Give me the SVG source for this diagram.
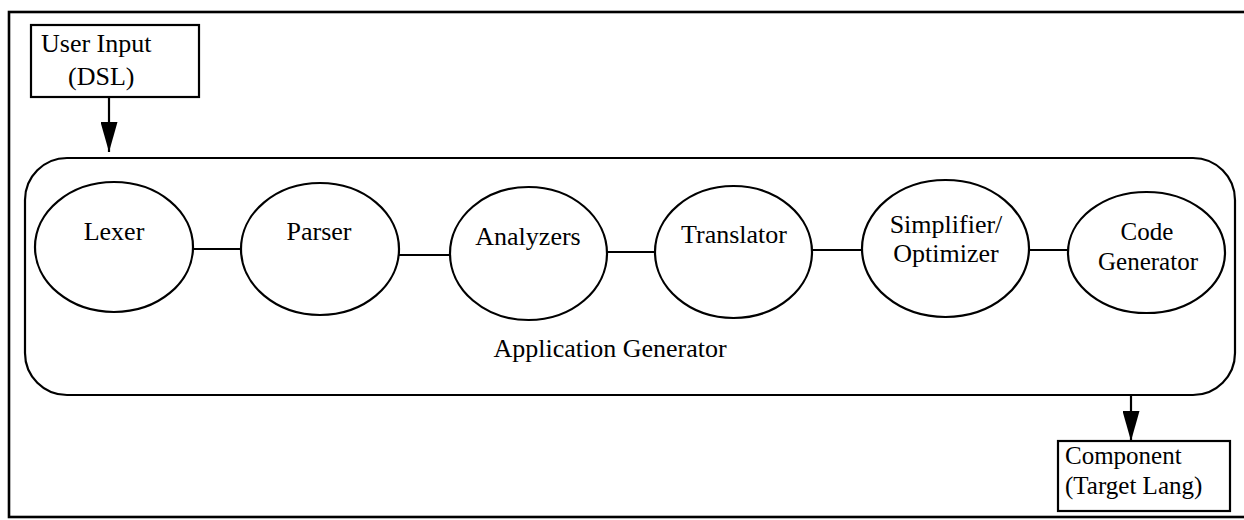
<svg xmlns="http://www.w3.org/2000/svg" width="1244" height="520" viewBox="0 0 1244 520">
  <style>
    .frame { fill: none; stroke: #000; stroke-width: 2.6; }
    .box { fill: #fff; stroke: #000; stroke-width: 2.2; }
    .stage { fill: #fff; stroke: #000; stroke-width: 2.2; }
    .link { fill: none; stroke: #000; stroke-width: 2.2; }
    .label { font-family: "Liberation Serif", "Times New Roman", serif; font-size: 26px; fill: #000; }
    .mid { text-anchor: middle; }
    .tight { font-size: 25px; }
  </style>
  <defs>
    <marker id="arrowhead" markerUnits="userSpaceOnUse" viewBox="0 0 30 17" markerWidth="30" markerHeight="17" refX="30" refY="8.5" orient="auto">
      <path d="M0,0 L30,8.5 L0,17 z" fill="#000"/>
    </marker>
  </defs>

  <rect width="1244" height="520" fill="#fff"/>

  <!-- outer frame (right edge runs past the page) -->
  <rect class="frame" x="9" y="12" width="1250" height="505"/>

  <!-- application generator container -->
  <g id="application-generator">
    <rect class="box" x="25" y="158" width="1210" height="237" rx="42" ry="42"/>
    <text class="label mid" x="610" y="357">Application Generator</text>
  </g>

  <!-- input and output boxes -->
  <g id="user-input">
    <rect class="box" x="31" y="25" width="168" height="72"/>
    <text class="label" x="41" y="52">User Input</text>
    <text class="label" x="68" y="85">(DSL)</text>
  </g>
  <g id="component">
    <rect class="box" x="1058" y="441" width="172" height="70"/>
    <text class="label tight" x="1065" y="464">Component</text>
    <text class="label tight" x="1065" y="494">(Target Lang)</text>
  </g>

  <!-- pipeline connectors -->
  <g id="connectors">
    <line class="link" x1="193" y1="249" x2="241" y2="249"/>
    <line class="link" x1="399" y1="255" x2="450" y2="255"/>
    <line class="link" x1="607" y1="252" x2="655" y2="252"/>
    <line class="link" x1="812" y1="250" x2="862" y2="250"/>
    <line class="link" x1="1029" y1="250" x2="1068" y2="250"/>
    <line class="link" x1="109" y1="97" x2="109" y2="152" marker-end="url(#arrowhead)"/>
    <line class="link" x1="1131" y1="395" x2="1131" y2="441" marker-end="url(#arrowhead)"/>
  </g>

  <!-- pipeline stages -->
  <g id="lexer">
    <ellipse class="stage" cx="114" cy="247" rx="79" ry="65"/>
    <text class="label mid" x="114" y="240">Lexer</text>
  </g>
  <g id="parser">
    <ellipse class="stage" cx="320" cy="249" rx="79" ry="66"/>
    <text class="label mid" x="319" y="240">Parser</text>
  </g>
  <g id="analyzers">
    <ellipse class="stage" cx="528.5" cy="253.5" rx="78.5" ry="66.5"/>
    <text class="label mid" x="528" y="245">Analyzers</text>
  </g>
  <g id="translator">
    <ellipse class="stage" cx="733.5" cy="252" rx="78.5" ry="66"/>
    <text class="label mid" x="734" y="243">Translator</text>
  </g>
  <g id="simplifier-optimizer">
    <ellipse class="stage" cx="945.5" cy="248.5" rx="83.5" ry="68.5"/>
    <text class="label mid" x="946" y="233">Simplifier/</text>
    <text class="label mid" x="946" y="262">Optimizer</text>
  </g>
  <g id="code-generator">
    <ellipse class="stage" cx="1146.5" cy="252.5" rx="78.5" ry="60.5"/>
    <text class="label mid tight" x="1147" y="240">Code</text>
    <text class="label mid tight" x="1148" y="270">Generator</text>
  </g>
</svg>
